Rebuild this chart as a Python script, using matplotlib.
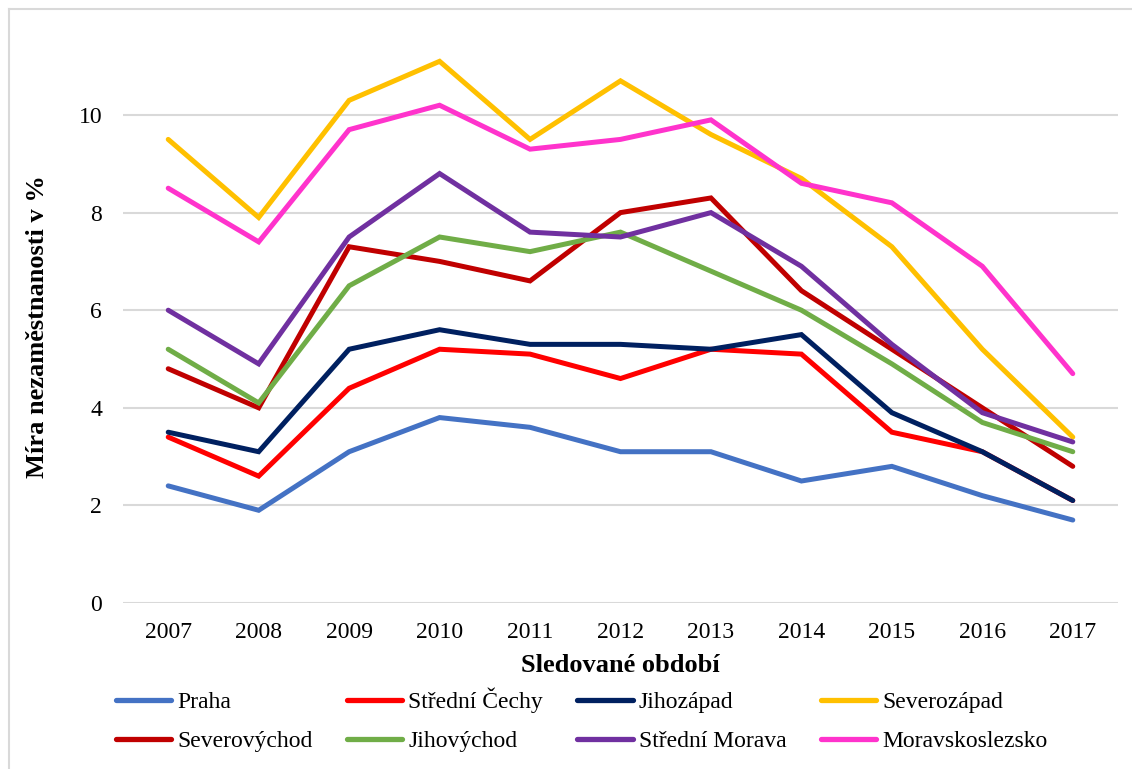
import matplotlib
matplotlib.use('Agg')
import matplotlib.pyplot as plt
from matplotlib.lines import Line2D

years = ['2007', '2008', '2009', '2010', '2011', '2012', '2013', '2014', '2015', '2016', '2017']

praha = [2.4, 1.9, 3.1, 3.8, 3.6, 3.1, 3.1, 2.5, 2.8, 2.2, 1.7]
stredni_cechy = [3.4, 2.6, 4.4, 5.2, 5.1, 4.6, 5.2, 5.1, 3.5, 3.1, 2.1]
jihozapad = [3.5, 3.1, 5.2, 5.6, 5.3, 5.3, 5.2, 5.5, 3.9, 3.1, 2.1]
severozapad = [9.5, 7.9, 10.3, 11.1, 9.5, 10.7, 9.6, 8.7, 7.3, 5.2, 3.4]
severovychod = [4.8, 4.0, 7.3, 7.0, 6.6, 8.0, 8.3, 6.4, 5.2, 4.0, 2.8]
jihovychod = [5.2, 4.1, 6.5, 7.5, 7.2, 7.6, 6.8, 6.0, 4.9, 3.7, 3.1]
stredni_morava = [6.0, 4.9, 7.5, 8.8, 7.6, 7.5, 8.0, 6.9, 5.3, 3.9, 3.3]
moravskoslezsko = [8.5, 7.4, 9.7, 10.2, 9.3, 9.5, 9.9, 8.6, 8.2, 6.9, 4.7]

series = [
    ('Praha', praha, '#4472C4'),
    ('Střední Čechy', stredni_cechy, '#FF0000'),
    ('Jihozápad', jihozapad, '#002060'),
    ('Severozápad', severozapad, '#FFC000'),
    ('Severovýchod', severovychod, '#C00000'),
    ('Jihovýchod', jihovychod, '#70AD47'),
    ('Střední Morava', stredni_morava, '#7030A0'),
    ('Moravskoslezsko', moravskoslezsko, '#FF33CC'),
]

plt.rcParams['font.family'] = ['Liberation Serif', 'DejaVu Serif']
FS = 17
FS_TITLE = 19

fig = plt.figure(figsize=(11.32, 7.69), dpi=100)
ax = fig.add_axes([123 / 1132, 1 - 603 / 769, (1118 - 123) / 1132, (603 - 40) / 769])

x = list(range(len(years)))
handles = {}
for name, vals, col in series:
    ln, = ax.plot(x, vals, color=col, linewidth=3.6, solid_capstyle='round',
                  solid_joinstyle='miter', label=name)
    handles[name] = ln

ax.set_xlim(-0.5, len(years) - 0.5)
ax.set_ylim(0, 563 / 48.8)
ax.set_yticks([0, 2, 4, 6, 8, 10])
ax.set_xticks(x)
ax.set_xticklabels(years)
ax.tick_params(axis='both', length=0, labelsize=FS, colors='black')
ax.tick_params(axis='y', pad=15)
ax.tick_params(axis='x', pad=14)
ax.grid(axis='y', color='#D9D9D9', linewidth=1.5)
ax.set_axisbelow(True)
for s in ax.spines.values():
    s.set_visible(False)

fig.text(38 / 1132, 1 - 327 / 769, 'Míra nezaměstnanosti v %', rotation=90,
         ha='center', va='center', fontsize=FS_TITLE, fontweight='bold')
fig.text(620 / 1132, 1 - 665 / 769, 'Sledované období', ha='center', va='center',
         fontsize=FS_TITLE, fontweight='bold')

# legend entries go column by column
order = ['Praha', 'Severovýchod', 'Střední Čechy', 'Jihovýchod',
         'Jihozápad', 'Střední Morava', 'Severozápad', 'Moravskoslezsko']
leg_h = [Line2D([], [], color=handles[n].get_color(), linewidth=3.8,
                solid_capstyle='round') for n in order]
fig.legend(leg_h, order, ncol=4, loc='center left',
           bbox_to_anchor=(116 / 1132, 1 - 720 / 769), frameon=False,
           fontsize=FS, handlelength=2.35, handletextpad=0.25,
           columnspacing=1.45, labelspacing=0.75, borderpad=0, borderaxespad=0)

# outer chart border
fig.add_artist(Line2D([9 / 1132, 9 / 1132], [0, 1 - 9 / 769], color='#D9D9D9',
                      linewidth=1.5, transform=fig.transFigure))
fig.add_artist(Line2D([9 / 1132, 1], [1 - 9 / 769, 1 - 9 / 769], color='#D9D9D9',
                      linewidth=1.5, transform=fig.transFigure))

fig.savefig('out.png', dpi=100)
